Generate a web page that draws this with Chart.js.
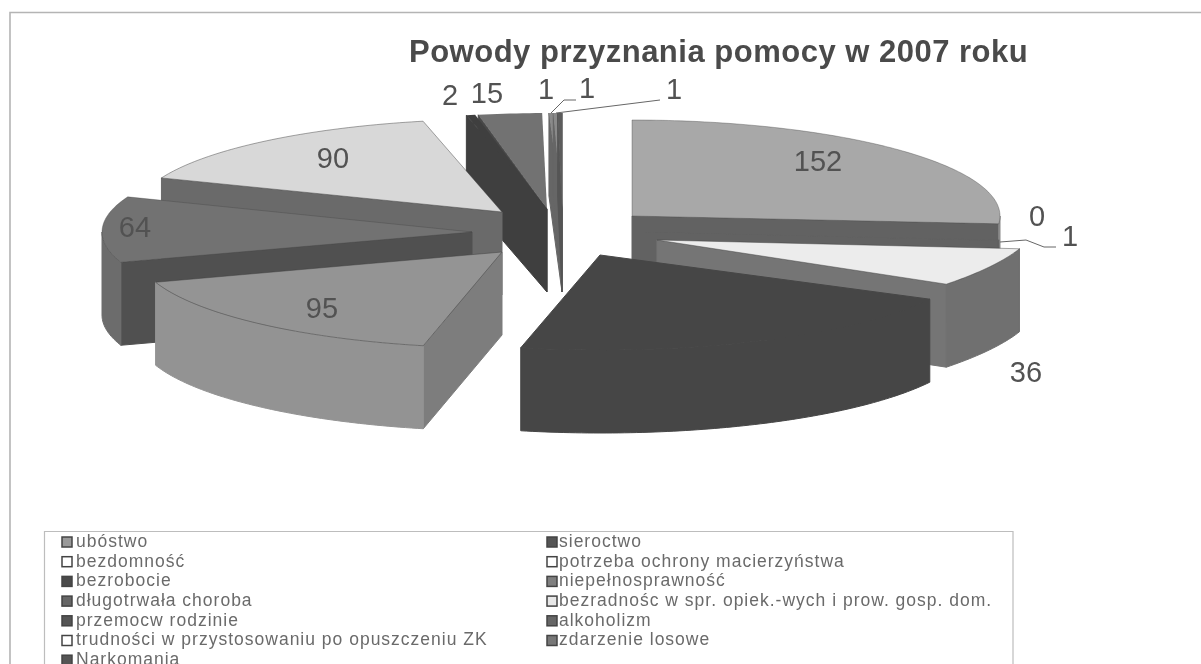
<!DOCTYPE html>
<html lang="pl">
<head>
<meta charset="utf-8">
<title>Powody przyznania pomocy w 2007 roku</title>
<script src="https://cdn.jsdelivr.net/npm/chart.js@4"></script>
<style>
html,body{margin:0;padding:0;background:#fff;overflow:hidden}
#wrap{width:1201px;height:664px;position:relative}
canvas{display:block;filter:blur(0.6px)}
</style>
</head>
<body>
<div id="wrap"><canvas id="c" width="1201" height="664"></canvas></div>
<script>
const chartTitle = "Powody przyznania pomocy w 2007 roku";
const categories = ["ubóstwo","sieroctwo","bezdomność","potrzeba ochrony macierzyństwa","bezrobocie","niepełnosprawność","długotrwała choroba","bezradnośc w spr. opiek.-wych i prow. gosp. dom.","przemocw rodzinie","alkoholizm","trudności w przystosowaniu po opuszczeniu ZK","zdarzenie losowe","Narkomania"];
const values = [152,0,1,36,120,95,64,90,2,15,1,1,1];
const shownLabels = ["152","0","1","36","","95","64","90","2","15","1","1","1"];
const legendLeft = [0,2,4,6,8,10,12];
const legendRight = [1,3,5,7,9,11];

// styles
const topColors  = ["#a8a8a8","#555555","#626262","#ececec","#464646","#949494","#727272","#d8d8d8","#3f3f3f","#727272","#8a8a8a","#8a8a8a","#5c5c5c"];
const sideColors = ["#626262","#555555","#626262","#757575","#464646","#7d7d7d","#505050","#6a6a6a","#3f3f3f","#484848","#666666","#666666","#555555"];
const rimColors  = ["#8a8a8a","#555555","#626262","#707070","#464646","#939393","#6c6c6c","#888888","#3f3f3f","#555555","#666666","#666666","#555555"];
const edgeColors = ["rgba(60,60,60,.35)",null,null,"rgba(60,60,60,.45)","#464646","rgba(60,60,60,.45)","rgba(60,60,60,.3)","rgba(60,60,60,.45)",null,null,null,null,null];
const swatchColors = ["#9a9a9a","#555555","#ffffff","#ffffff","#4a4a4a","#808080","#666666","#e8e8e8","#555555","#666666","#ffffff","#777777","#555555"];
// explosion of every slice from the pie centre, and its projected shape [rx, ry, shear]
const shift = [[67,-24],[80,-12],[80,-8],[92,0],[35,15],[-63,12],[-93,-8],[-63,-28],[-18,-31],[-18,-31],[-3,-31],[-3,-31],[-3,-31]];
const shape = [[368,96,0],[355,96,0],[355,96,0],[372,95,-86],[372,95,1],[365,96,0],[370,96,0],[366,93,0],[410,96,-8],[394,96,-8],[400,96,0],[400,96,0],[400,96,0]];
const depth = 83;
const paintOrder = [10,11,12,9,8,7,6,5,0,1,2,3,4];
const labelAt = [[818,163],[1037,218],[1070,238],[1026,374],null,[322,310],[135,229],[333,160],[450,97],[487,95],[546,91],[587,90],[674,91]];
const leaders = [[[1000,242],[1026,240],[1044,247],[1056,247]],[[551,113],[564,100],[576,100]],[[556,113],[660,100]]];

function paintSlice(ctx, arc, i){
  const a0 = arc.startAngle, a1 = arc.endAngle;
  if (a1 - a0 <= 0) return;
  const ax = arc.x + shift[i][0], ay = arc.y + shift[i][1];
  const [rx, ry, k] = shape[i];
  const pt = (t, dz=0) => [ax + rx*Math.cos(t) + k*Math.sin(t), ay + ry*Math.sin(t) + dz];
  const edge = (from, to, dz) => {
    const n = Math.max(2, Math.ceil(Math.abs(to-from)*60));
    for (let j=0;j<=n;j++){ const p = pt(from+(to-from)*j/n, dz); ctx.lineTo(p[0],p[1]); }
  };
  const fillWith = c => { ctx.fillStyle = c; ctx.strokeStyle = c; ctx.lineWidth = 1; ctx.fill(); ctx.stroke(); };
  const quad = t => {
    const p = pt(t);
    ctx.beginPath();
    ctx.moveTo(ax, ay); ctx.lineTo(p[0], p[1]);
    ctx.lineTo(p[0], p[1]+depth); ctx.lineTo(ax, ay+depth); ctx.closePath();
    fillWith(sideColors[i]);
  };
  // radial walls facing the viewer
  if (Math.sin(a0 + Math.PI/2) < 0) quad(a0);
  if (Math.sin(a1 + Math.PI/2) > 0) quad(a1);
  // outer rim: the front half only
  const s = Math.max(a0, 0), e = Math.min(a1, Math.PI);
  if (e > s) {
    ctx.beginPath();
    edge(s, e, 0);
    edge(e, s, depth);
    ctx.closePath();
    fillWith(rimColors[i]);
  }
  // top face
  ctx.beginPath();
  ctx.moveTo(ax, ay);
  edge(a0, a1, 0);
  ctx.closePath();
  ctx.fillStyle = topColors[i]; ctx.fill();
  if (edgeColors[i]) { ctx.strokeStyle = edgeColors[i]; ctx.lineWidth = 1; ctx.stroke(); }
}

const pie3d = {
  id: "pie3d",
  beforeDatasetsDraw(chart){
    const ctx = chart.ctx, arcs = chart.getDatasetMeta(0).data;
    ctx.save();
    paintOrder.forEach(i => paintSlice(ctx, arcs[i], i));
    ctx.restore();
    return false;
  },
  afterDraw(chart){
    const ctx = chart.ctx;
    ctx.save();
    // frame
    ctx.strokeStyle = "#b4b4b4"; ctx.lineWidth = 1.6;
    ctx.beginPath(); ctx.moveTo(10,664); ctx.lineTo(10,12.5); ctx.lineTo(1201,12.5); ctx.stroke();
    // title
    ctx.fillStyle = "#4a4a4a";
    ctx.font = "bold 31px 'Liberation Sans'";
    ctx.letterSpacing = "0.5px";
    ctx.textAlign = "left"; ctx.textBaseline = "alphabetic";
    ctx.fillText(chartTitle, 409, 62);
    ctx.letterSpacing = "0px";
    // data labels
    ctx.font = "29px 'Liberation Sans'";
    ctx.fillStyle = "#525252";
    ctx.textAlign = "center"; ctx.textBaseline = "middle";
    shownLabels.forEach((t,i)=>{ if (t && labelAt[i]) ctx.fillText(t, labelAt[i][0], labelAt[i][1]); });
    // leader lines
    ctx.strokeStyle = "#666"; ctx.lineWidth = 1;
    leaders.forEach(l=>{ ctx.beginPath(); l.forEach((p,k)=> k?ctx.lineTo(p[0],p[1]):ctx.moveTo(p[0],p[1])); ctx.stroke(); });
    // legend
    ctx.strokeStyle = "#bdbdbd"; ctx.lineWidth = 1.2;
    ctx.beginPath(); ctx.moveTo(44.5,664); ctx.lineTo(44.5,531.5); ctx.lineTo(1013,531.5); ctx.lineTo(1013,664); ctx.stroke();
    ctx.font = "17.5px 'Liberation Sans'";
    ctx.letterSpacing = "1px";
    ctx.textAlign = "left"; ctx.textBaseline = "middle";
    const column = (ids, sx, tx) => ids.forEach((i,r)=>{
      const y = 542 + r*19.7;
      ctx.fillStyle = swatchColors[i]; ctx.fillRect(sx, y-5, 10, 10);
      ctx.strokeStyle = "#444"; ctx.lineWidth = 1.5; ctx.strokeRect(sx, y-5, 10, 10);
      ctx.fillStyle = "#6a6a6a"; ctx.fillText(categories[i], tx, y);
    });
    column(legendLeft, 62, 76);
    column(legendRight, 547, 559);
    ctx.restore();
  }
};

new Chart(document.getElementById("c"), {
  type: "pie",
  data: { labels: categories, datasets: [{ data: values, backgroundColor: topColors, borderWidth: 0 }] },
  options: {
    responsive: false,
    animation: false,
    events: [],
    layout: { padding: { left: 0, right: 71, top: 0, bottom: 184 } },
    plugins: { legend: { display: false }, title: { display: false }, tooltip: { enabled: false } }
  },
  plugins: [pie3d]
});
</script>
</body>
</html>
